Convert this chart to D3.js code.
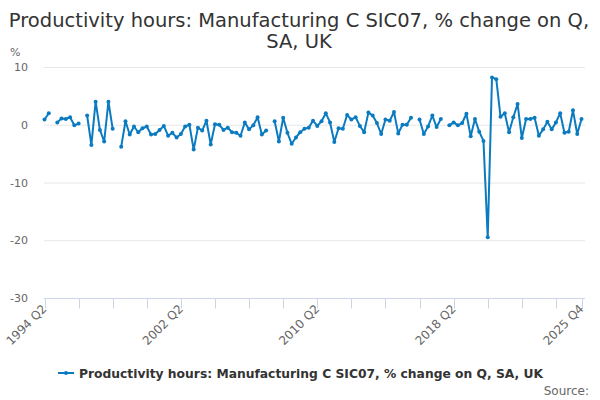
<!DOCTYPE html>
<html>
<head>
<meta charset="utf-8">
<script src="https://cdn.jsdelivr.net/npm/d3@7"></script>
<style>
  body { margin: 0; background: #fff; }
  svg { font-family: "DejaVu Sans", sans-serif; }
</style>
</head>
<body>
<div id="chart"></div>
<script>
const categories = [
  "1994 Q2","1994 Q3","1994 Q4",
  "1995 Q1","1995 Q2","1995 Q3","1995 Q4",
  "1996 Q1","1996 Q2","1996 Q3","1996 Q4",
  "1997 Q1","1997 Q2","1997 Q3","1997 Q4",
  "1998 Q1","1998 Q2","1998 Q3","1998 Q4",
  "1999 Q1","1999 Q2","1999 Q3","1999 Q4",
  "2000 Q1","2000 Q2","2000 Q3","2000 Q4",
  "2001 Q1","2001 Q2","2001 Q3","2001 Q4",
  "2002 Q1","2002 Q2","2002 Q3","2002 Q4",
  "2003 Q1","2003 Q2","2003 Q3","2003 Q4",
  "2004 Q1","2004 Q2","2004 Q3","2004 Q4",
  "2005 Q1","2005 Q2","2005 Q3","2005 Q4",
  "2006 Q1","2006 Q2","2006 Q3","2006 Q4",
  "2007 Q1","2007 Q2","2007 Q3","2007 Q4",
  "2008 Q1","2008 Q2","2008 Q3","2008 Q4",
  "2009 Q1","2009 Q2","2009 Q3","2009 Q4",
  "2010 Q1","2010 Q2","2010 Q3","2010 Q4",
  "2011 Q1","2011 Q2","2011 Q3","2011 Q4",
  "2012 Q1","2012 Q2","2012 Q3","2012 Q4",
  "2013 Q1","2013 Q2","2013 Q3","2013 Q4",
  "2014 Q1","2014 Q2","2014 Q3","2014 Q4",
  "2015 Q1","2015 Q2","2015 Q3","2015 Q4",
  "2016 Q1","2016 Q2","2016 Q3","2016 Q4",
  "2017 Q1","2017 Q2","2017 Q3","2017 Q4",
  "2018 Q1","2018 Q2","2018 Q3","2018 Q4",
  "2019 Q1","2019 Q2","2019 Q3","2019 Q4",
  "2020 Q1","2020 Q2","2020 Q3","2020 Q4",
  "2021 Q1","2021 Q2","2021 Q3","2021 Q4",
  "2022 Q1","2022 Q2","2022 Q3","2022 Q4",
  "2023 Q1","2023 Q2","2023 Q3","2023 Q4",
  "2024 Q1","2024 Q2","2024 Q3","2024 Q4",
  "2025 Q1","2025 Q2","2025 Q3","2025 Q4"
];

// % change on previous quarter, null = no value published
const values = [
  0.9, 2.0, null,
  0.4, 1.1, 1.0, 1.3,
  -0.1, 0.2, null, 1.6,
  -3.5, 4.0, -0.9, -2.9,
  4.0, -0.7, null, -3.8,
  0.6, -1.7, -0.3, -1.3,
  -0.6, -0.3, -1.7, -1.6,
  -0.9, -0.2, -1.9, -1.4,
  -2.2, -1.6, -0.3, 0.0,
  -4.3, -0.5, -1.0, 0.7,
  -3.4, 0.1, 0.0, -0.9,
  -0.5, -1.3, -1.4, -1.9,
  0.4, -0.8, -0.1, 1.3,
  -1.7, -1.0, null, 0.6,
  -2.9, 1.2, -1.4, -3.3,
  -2.2, -1.3, -0.7, -0.5,
  0.7, -0.2, 0.6, 2.0,
  0.4, -3.0, -0.6, -0.7,
  1.7, 0.9, 1.3, -0.2,
  -1.3, 2.1, 1.6, 0.3,
  -1.6, 0.9, 0.7, 2.2,
  -1.5, 0.0, 0.0, 1.2,
  null, 0.9, -1.6, -0.3,
  1.6, -0.4, 1.0, null,
  -0.1, 0.4, -0.1, 0.3,
  1.9, -2.0, 1.0, -1.2,
  -2.8, -19.5, 8.2, 7.9,
  1.4, 2.0, -1.3, 1.3,
  3.6, -2.3, 1.0, 1.0,
  1.2, -1.9, -0.8, 0.5,
  -0.8, 0.4, 2.0, -1.4,
  -1.2, 2.5, -1.6, 1.0
];

const tickMarks = ["1994 Q2","1996 Q2","1998 Q2","2000 Q2","2002 Q2","2004 Q2","2006 Q2","2008 Q2",
  "2010 Q2","2012 Q2","2014 Q2","2016 Q2","2018 Q2","2020 Q2","2022 Q2","2024 Q2","2025 Q4"];
const tickLabels = ["1994 Q2","2002 Q2","2010 Q2","2018 Q2","2025 Q4"];
const yTicks = [10, 0, -10, -20, -30];

const titleLines = ["Productivity hours: Manufacturing C SIC07, % change on Q,", "SA, UK"];
const seriesName = "Productivity hours: Manufacturing C SIC07, % change on Q, SA, UK";
const lineColor = "#0b7bc1";

const width = 600, height = 400;
const svg = d3.select("#chart").append("svg")
  .attr("width", width).attr("height", height);

const x = d3.scalePoint().domain(categories).range([44.5, 581.5]);
const y = d3.scaleLinear().domain([-30, 10]).range([298, 67]);

// title
svg.append("g").selectAll("text").data(titleLines).enter().append("text")
  .attr("x", 299).attr("y", (d, i) => 27 + i * 21)
  .attr("text-anchor", "middle")
  .attr("fill", "#333").style("font-size", "19.5px")
  .text(d => d);

// grid + y labels
const yAxis = svg.append("g");
yAxis.selectAll("line").data(yTicks.filter(t => t !== -30)).enter().append("line")
  .attr("x1", 44).attr("x2", 585)
  .attr("y1", d => y(d) + 0.5).attr("y2", d => y(d) + 0.5)
  .attr("stroke", "#e6e6e6");
yAxis.selectAll("text").data(yTicks).enter().append("text")
  .attr("x", 28).attr("y", d => y(d) + 4)
  .attr("text-anchor", "end").attr("fill", "#666").style("font-size", "11px")
  .text(d => d);
svg.append("text").attr("x", 10).attr("y", 56)
  .attr("fill", "#666").style("font-size", "11px").text("%");

// x axis
const xAxis = svg.append("g").attr("transform", "translate(0,298.5)");
xAxis.append("line").attr("x1", 44).attr("x2", 585).attr("stroke", "#ccd6eb");
xAxis.selectAll("line.tick").data(tickMarks).enter().append("line")
  .attr("class", "tick")
  .attr("x1", d => Math.round(x(d)) + 0.5).attr("x2", d => Math.round(x(d)) + 0.5)
  .attr("y1", 0).attr("y2", 10).attr("stroke", "#ccd6eb");
xAxis.selectAll("text").data(tickLabels).enter().append("text")
  .attr("transform", d => `translate(${x(d) + 3},${11}) rotate(-45)`)
  .attr("text-anchor", "end").attr("fill", "#666").style("font-size", "12px")
  .text(d => d);

// series
const data = categories.map((c, i) => ({ c, v: values[i] }));
const line = d3.line()
  .defined(d => d.v !== null)
  .x(d => x(d.c)).y(d => y(d.v));
svg.append("path").datum(data)
  .attr("d", line).attr("fill", "none")
  .attr("stroke", lineColor).attr("stroke-width", 2)
  .attr("stroke-linejoin", "round");
svg.append("g").selectAll("circle").data(data.filter(d => d.v !== null)).enter().append("circle")
  .attr("cx", d => x(d.c)).attr("cy", d => y(d.v)).attr("r", 2)
  .attr("fill", lineColor);

// legend
const legend = svg.append("g").attr("transform", "translate(0,373)");
legend.append("line").attr("x1", 58).attr("x2", 74).attr("y1", 0).attr("y2", 0)
  .attr("stroke", lineColor).attr("stroke-width", 2);
legend.append("circle").attr("cx", 66).attr("cy", 0).attr("r", 2).attr("fill", lineColor);
legend.append("text").attr("x", 79).attr("y", 4.5)
  .attr("fill", "#333").style("font-size", "12.3px").style("font-weight", "bold")
  .text(seriesName);

svg.append("text").attr("x", 589).attr("y", 395)
  .attr("text-anchor", "end").attr("fill", "#666").style("font-size", "12px")
  .text("Source:");
</script>
</body>
</html>
